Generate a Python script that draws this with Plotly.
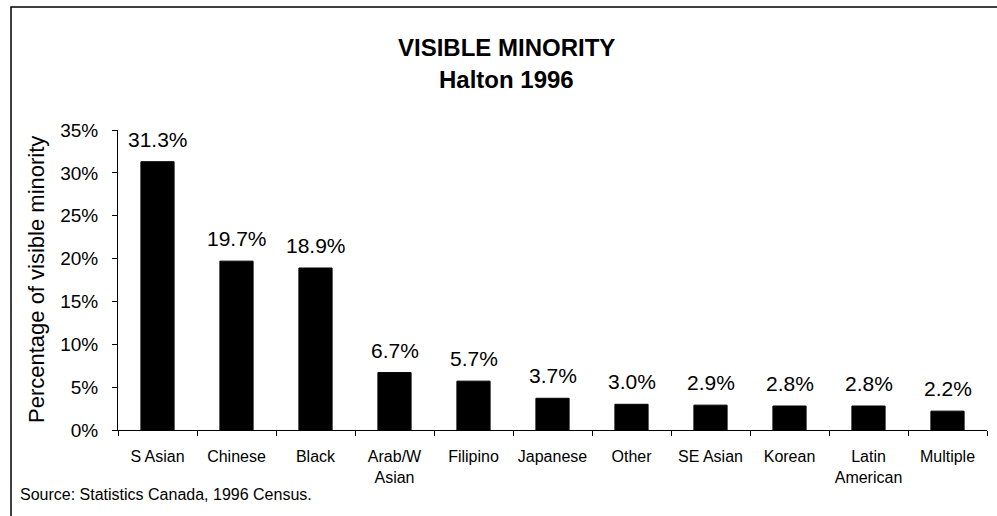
import plotly.graph_objects as go

categories = ["S Asian", "Chinese", "Black", "Arab/W<br>Asian", "Filipino", "Japanese",
              "Other", "SE Asian", "Korean", "Latin<br>American", "Multiple"]
values = [31.3, 19.7, 18.9, 6.7, 5.7, 3.7, 3.0, 2.9, 2.8, 2.8, 2.2]
tick_vals = [0, 5, 10, 15, 20, 25, 30, 35]
tick_text = ["0%", "5%", "10%", "15%", "20%", "25%", "30%", "35%"]

FONT = "Liberation Sans, Arial, sans-serif"

fig = go.Figure(go.Bar(
    x=categories, y=values,
    marker=dict(color="black", line=dict(color="black", width=1)),
    hoverinfo="x+y",
))

L, R, T, B = 118, 10, 130, 86
W, H = 997, 516
pw, ph = W - L - R, H - T - B

def px_x(p):
    return (p - L) / pw

def px_y(p):
    return (H - B - p) / ph

annotations = [
    dict(x=c, y=v, xref="x", yref="y", text=f"{v:.1f}%", showarrow=False,
         yanchor="bottom", yshift=9, font=dict(size=21))
    for c, v in zip(categories, values)
]
annotations += [
    dict(text="<b>VISIBLE MINORITY</b>", x=px_x(506), y=px_y(47), xref="paper", yref="paper",
         showarrow=False, font=dict(size=24), xanchor="center", yanchor="middle"),
    dict(text="<b>Halton 1996</b>", x=px_x(506), y=px_y(80), xref="paper", yref="paper",
         showarrow=False, font=dict(size=24), xanchor="center", yanchor="middle"),
    dict(text="Percentage of visible minority", x=px_x(36), y=px_y(280), xref="paper", yref="paper",
         showarrow=False, font=dict(size=22), textangle=-90, xanchor="center", yanchor="middle"),
    dict(text="Source: Statistics Canada, 1996 Census.", x=px_x(18), y=px_y(494),
         xref="paper", yref="paper", showarrow=False, font=dict(size=16),
         xanchor="left", yanchor="middle"),
]

fig.update_layout(
    width=W, height=H,
    margin=dict(l=L, r=R, t=T, b=B),
    paper_bgcolor="white", plot_bgcolor="white",
    bargap=0.58,
    showlegend=False,
    font=dict(family=FONT, color="black"),
    xaxis=dict(
        showline=True, linecolor="black", linewidth=1,
        ticks="outside", tickson="boundaries", ticklen=5, tickcolor="black",
        tickfont=dict(size=16), showgrid=False, ticklabelstandoff=12,
    ),
    yaxis=dict(
        range=[0, 35], tickvals=tick_vals, ticktext=tick_text,
        showline=True, linecolor="black", linewidth=1,
        ticks="outside", ticklen=5, tickcolor="black",
        tickfont=dict(size=19), showgrid=False, zeroline=False,
        ticklabelstandoff=10,
    ),
    annotations=annotations,
    shapes=[
        dict(type="rect", xref="paper", yref="paper",
             x0=px_x(11), x1=px_x(1010), y0=px_y(530), y1=px_y(7),
             line=dict(color="black", width=1.5)),
    ],
)

fig.write_html("out.html", config={"displayModeBar": False},
               post_script="document.body.style.margin='0';")
